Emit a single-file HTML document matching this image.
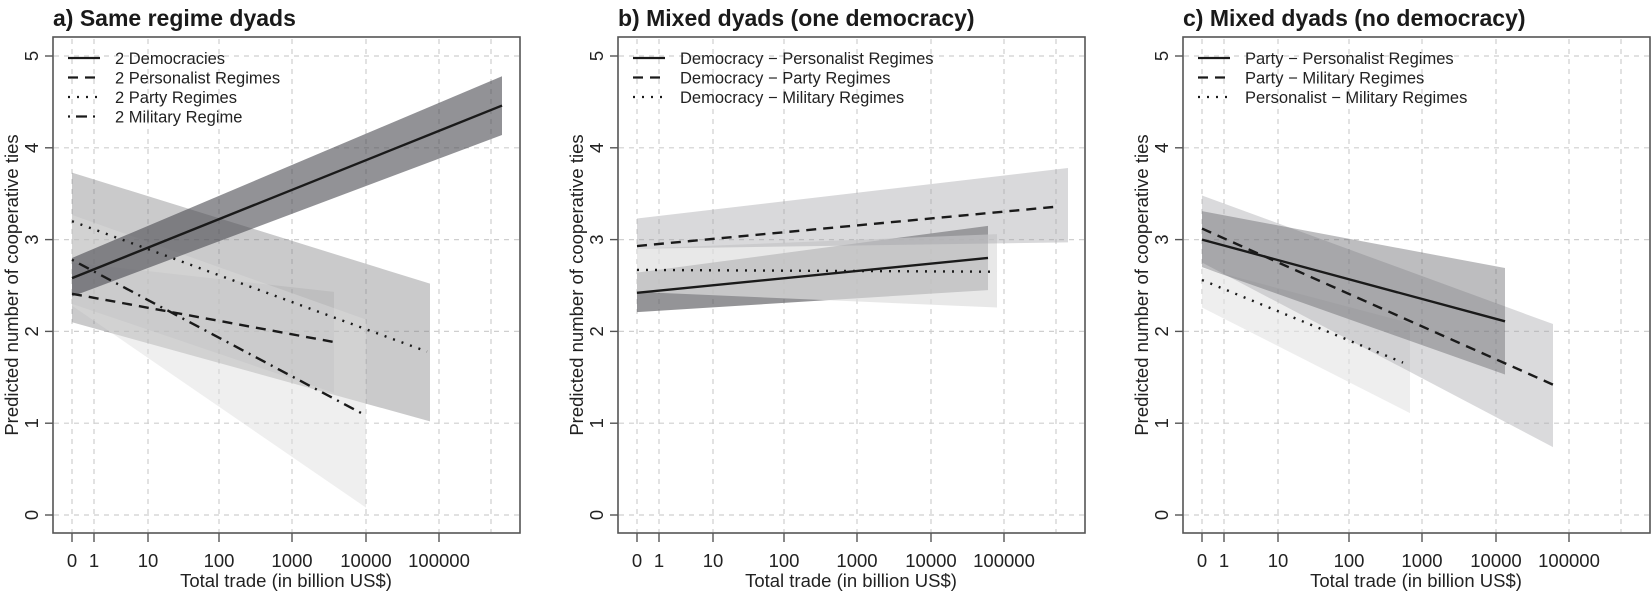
<!DOCTYPE html>
<html><head><meta charset="utf-8">
<style>
html,body{margin:0;padding:0;background:#fff;}
svg{display:block;font-family:"Liberation Sans",Arial,sans-serif;}
</style></head>
<body>
<svg id="s" width="1651" height="593" viewBox="0 0 1651 593" xmlns="http://www.w3.org/2000/svg"></svg>
<script>
const S=document.getElementById('s');
let h='';
const Y=v=>515-v*91.8;
const ticks=[[0,72],[1,94],[10,148],[100,219],[1000,292],[10000,366],[100000,439]];
const extra=491;
function panel(off,title,legend,bands,lines){
  for(const t of ticks.map(t=>t[1]).concat([extra])){h+=`<line x1="${off+t}" y1="39" x2="${off+t}" y2="532" stroke="#cfcfcf" stroke-width="1.2" stroke-dasharray="5,5"/>`;}
  for(let v=0;v<=5;v++){h+=`<line x1="${off+54}" y1="${Y(v)}" x2="${off+519}" y2="${Y(v)}" stroke="#cfcfcf" stroke-width="1.2" stroke-dasharray="5,5"/>`;}
  for(const b of bands){const [x1,x2,ul,ur,ll,lr,fill,op]=b;
    h+=`<polygon points="${off+x1},${Y(ul)} ${off+x2},${Y(ur)} ${off+x2},${Y(lr)} ${off+x1},${Y(ll)}" fill="${fill}" fill-opacity="${op}"/>`;}
  for(const l of lines){const [x1,x2,a,b,dash]=l;
    h+=`<line x1="${off+x1}" y1="${Y(a)}" x2="${off+x2}" y2="${Y(b)}" stroke="#1a1a1a" stroke-width="2.4" ${dash?`stroke-dasharray="${dash}"`:''}/>`;}
  h+=`<rect x="${off+53}" y="37" width="467" height="496" fill="none" stroke="#555" stroke-width="1.6"/>`;
  for(const t of ticks){h+=`<line x1="${off+t[1]}" y1="533" x2="${off+t[1]}" y2="542" stroke="#555" stroke-width="1.4"/>`;
    h+=`<text x="${off+t[1]}" y="567" font-size="18.5" text-anchor="middle" fill="#222">${t[0]}</text>`;}
  for(let v=0;v<=5;v++){h+=`<line x1="${off+45}" y1="${Y(v)}" x2="${off+53}" y2="${Y(v)}" stroke="#555" stroke-width="1.4"/>`;
    h+=`<text transform="translate(${off+38},${Y(v)}) rotate(-90)" font-size="18.5" text-anchor="middle" fill="#222">${v}</text>`;}
  h+=`<text x="${off+286}" y="587" font-size="18.5" text-anchor="middle" fill="#222">Total trade (in billion US$)</text>`;
  h+=`<text transform="translate(${off+18},285) rotate(-90)" font-size="18.5" text-anchor="middle" fill="#222">Predicted number of cooperative ties</text>`;
  h+=`<text x="${off+53}" y="26" font-size="23" font-weight="bold" fill="#1a1a1a">${title}</text>`;
  legend.forEach((L,i)=>{const y=58+i*19.5;
    h+=`<line x1="${off+68}" y1="${y}" x2="${off+100}" y2="${y}" stroke="#1a1a1a" stroke-width="2.2" ${L[1]?`stroke-dasharray="${L[1]}"`:''}/>`;
    h+=`<text x="${off+115}" y="${y+6}" font-size="16.5" fill="#222">${L[0]}</text>`;});
}
const DASH="10,7", DOT="2,7", DD="2,6,11,6";
panel(0,"a) Same regime dyads",
 [["2 Democracies",""],["2 Personalist Regimes",DASH],["2 Party Regimes",DOT],["2 Military Regime",DD]],
 [[72,430,3.73,2.52,2.1,1.02,"#7a7a7e",0.4],
  [72,334,2.75,2.43,2.3,1.33,"#a8a8aa",0.35],
  [72,366,3.27,2.13,2.28,0.08,"#dcdcdc",0.45],
  [72,502,2.8,4.78,2.38,4.14,"#4a4a50",0.6]],
 [[72,502,2.58,4.46,""],[72,336,2.41,1.88,DASH],[72,427,3.2,1.78,DOT],[72,363,2.78,1.1,DD]]);
panel(565,"b) Mixed dyads (one democracy)",
 [["Democracy − Personalist Regimes",""],["Democracy − Party Regimes",DASH],["Democracy − Military Regimes",DOT]],
 [[72,423,2.64,3.15,2.21,2.45,"#5a5a60",0.65],
  [72,432,2.9,3.06,2.43,2.26,"#dedede",0.69],
  [72,503,3.23,3.78,2.9,2.97,"#a0a0a4",0.4]],
 [[72,423,2.42,2.80,""],[72,493,2.93,3.36,DASH],[72,432,2.67,2.65,DOT]]);
panel(1130,"c) Mixed dyads (no democracy)",
 [["Party − Personalist Regimes",""],["Party − Military Regimes",DASH],["Personalist − Military Regimes",DOT]],
 [[72,280,2.69,2.09,2.26,1.11,"#e2e2e2",0.6],
  [72,423,3.48,2.08,2.75,0.74,"#a8a8ac",0.42],
  [72,375,3.31,2.69,2.7,1.53,"#5a5a60",0.4]],
 [[72,375,3.0,2.11,""],[72,423,3.12,1.42,DASH],[72,273,2.56,1.66,DOT]]);
S.innerHTML=h;
</script>
</body></html>
